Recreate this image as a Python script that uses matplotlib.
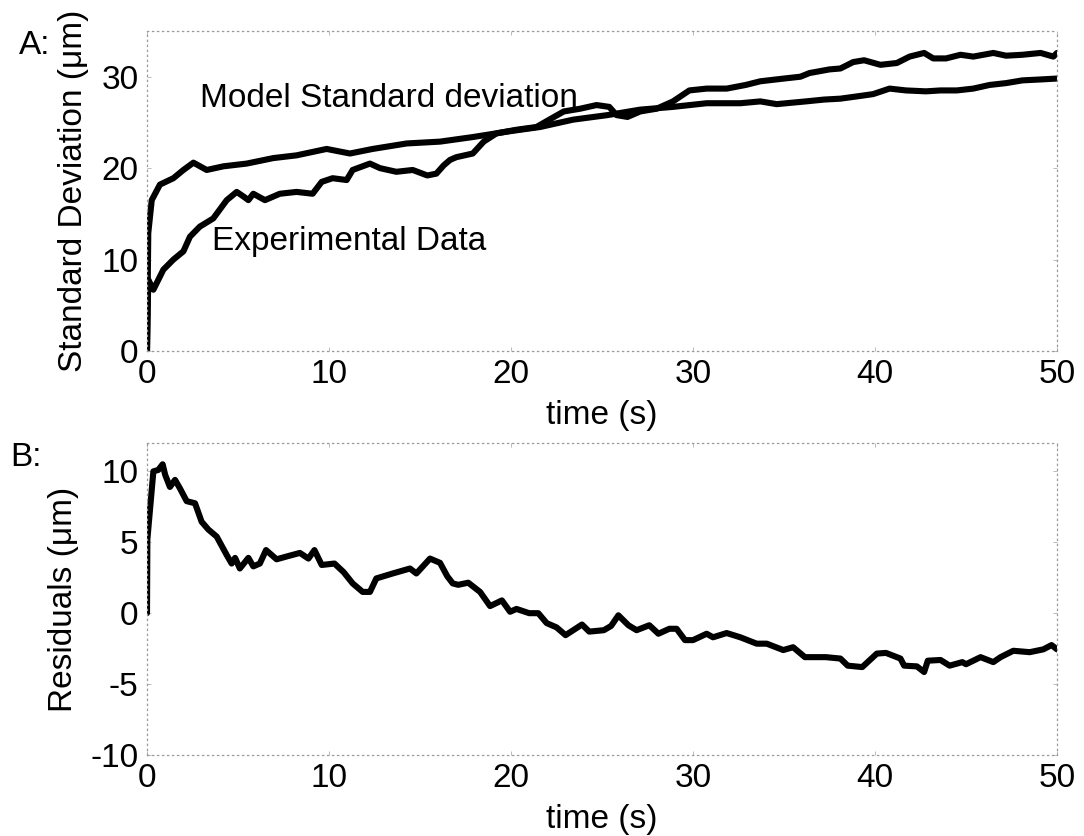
import matplotlib
matplotlib.use("Agg")
import matplotlib.pyplot as plt

plt.rcParams["font.family"] = ["Liberation Sans", "DejaVu Sans"]
plt.rcParams["axes.unicode_minus"] = False

# Panel A: standard deviation of the model and of the experimental data (um)
model_t = [0, 0.07, 0.26, 0.71, 1.45, 2.0, 2.55, 3.28, 4.2, 5.48,
           6.94, 8.22, 9.87, 11.15, 12.4, 14.27, 16.1, 17.9, 19.8, 21.6,
           23.4, 25.3, 27.1, 28.9, 30.75, 32.6, 33.7, 34.6, 36.2, 37.2,
           38.1, 39.2, 39.9, 40.8, 41.7, 42.8, 43.6, 44.5, 45.4, 46.3,
           47.2, 48.1, 49.1, 50]
model_sd = [0, 12.9, 16.5, 18.2, 18.9, 19.8, 20.6, 19.8, 20.2, 20.5,
            21.1, 21.4, 22.1, 21.6, 22.1, 22.7, 22.9, 23.4, 24.0, 24.5,
            25.3, 25.8, 26.4, 26.7, 27.1, 27.1, 27.3, 27.0, 27.3, 27.5,
            27.6, 27.9, 28.1, 28.7, 28.5, 28.4, 28.5, 28.5, 28.7, 29.1,
            29.3, 29.6, 29.7, 29.8]

exp_t = [0, 0.07, 0.35, 0.9, 1.45, 2.0, 2.36, 2.9, 3.64, 4.38,
         4.93, 5.3, 5.57, 5.84, 6.48, 7.3, 8.22, 9.1, 9.6, 10.2,
         10.97, 11.3, 12.25, 12.8, 13.7, 14.6, 15.4, 15.9, 16.3, 16.65,
         17.0, 17.9, 18.5, 19.2, 20.3, 21.4, 22.1, 22.9, 23.8, 24.7,
         25.4, 25.8, 26.4, 27.1, 28.0, 28.9, 29.8, 30.75, 31.85, 32.9,
         33.7, 35.0, 35.9, 36.4, 37.5, 38.1, 38.8, 39.4, 40.3, 41.2,
         41.9, 42.7, 43.2, 43.9, 44.7, 45.4, 46.5, 47.2, 48.1, 49.1,
         49.8, 50]
exp_sd = [0, 7.8, 6.7, 8.9, 10.0, 10.9, 12.5, 13.6, 14.5, 16.5,
          17.4, 16.9, 16.5, 17.2, 16.5, 17.2, 17.4, 17.2, 18.5, 18.9,
          18.7, 19.8, 20.5, 20.0, 19.6, 19.8, 19.2, 19.4, 20.3, 20.9,
          21.2, 21.6, 22.9, 23.8, 24.2, 24.5, 25.3, 26.2, 26.5, 26.9,
          26.7, 25.8, 25.6, 26.2, 26.5, 27.3, 28.5, 28.7, 28.7, 29.1,
          29.5, 29.8, 30.0, 30.4, 30.8, 30.9, 31.6, 31.8, 31.3, 31.5,
          32.2, 32.6, 32.0, 32.0, 32.4, 32.2, 32.6, 32.3, 32.4, 32.6,
          32.2, 32.6]

# Panel B: residuals (um)
res_t = [0, 0.02, 0.35, 0.62, 0.86, 1.0, 1.26, 1.54, 1.81, 2.18,
         2.64, 3.0, 3.37, 3.83, 4.38, 4.65, 4.84, 5.1, 5.57, 5.84,
         6.2, 6.54, 7.12, 7.68, 8.4, 8.87, 9.2, 9.6, 10.3, 10.8,
         11.3, 11.85, 12.25, 12.6, 13.5, 14.45, 14.8, 15.55, 16.1, 16.5,
         16.8, 17.1, 17.65, 18.3, 18.85, 19.5, 19.95, 20.3, 21.0, 21.5,
         21.96, 22.5, 23.0, 23.9, 24.3, 25.1, 25.5, 25.9, 26.45, 26.9,
         27.6, 28.1, 28.7, 29.1, 29.56, 30.0, 30.75, 31.1, 31.85, 32.6,
         33.5, 34.05, 34.96, 35.5, 36.15, 37.3, 38.1, 38.5, 39.3, 40.1,
         40.6, 41.4, 41.6, 42.3, 42.7, 42.9, 43.6, 44.1, 44.8, 45.0,
         45.8, 46.5, 46.9, 47.6, 48.5, 49.25, 49.7, 50]
res_val = [0, 5.2, 10.0, 10.1, 10.5, 9.75, 8.9, 9.4, 8.8, 7.9,
           7.75, 6.45, 5.9, 5.4, 4.1, 3.5, 3.9, 3.15, 3.9, 3.3,
           3.5, 4.45, 3.8, 4.0, 4.25, 3.85, 4.45, 3.4, 3.5, 2.9,
           2.1, 1.5, 1.5, 2.45, 2.8, 3.15, 2.8, 3.85, 3.55, 2.6,
           2.1, 2.0, 2.15, 1.5, 0.5, 0.9, 0.1, 0.3, 0.0, 0.0,
           -0.7, -1.0, -1.55, -0.8, -1.3, -1.2, -0.9, -0.15, -0.85, -1.2,
           -0.85, -1.45, -1.1, -1.1, -1.9, -1.9, -1.45, -1.7, -1.4, -1.7,
           -2.15, -2.15, -2.6, -2.4, -3.1, -3.1, -3.2, -3.7, -3.8, -2.85,
           -2.8, -3.2, -3.7, -3.75, -4.15, -3.35, -3.3, -3.7, -3.45, -3.6,
           -3.1, -3.45, -3.1, -2.65, -2.75, -2.55, -2.25, -2.55]

x_ticks = [0, 10, 20, 30, 40, 50]
a_ticks = [0, 10, 20, 30]
b_ticks = [-10, -5, 0, 5, 10]

FS = 24
W, H = 1084, 836
fig = plt.figure(figsize=(W / 100, H / 100), dpi=100)
fig.patch.set_facecolor("white")

def frac(x0, y0, x1, y1):
    return [x0 / W, 1 - y1 / H, (x1 - x0) / W, (y1 - y0) / H]

axA = fig.add_axes(frac(147, 31, 1057, 351))
axB = fig.add_axes(frac(147, 443, 1057, 755))

line_kw = dict(color="black", lw=4.4, solid_joinstyle="round", solid_capstyle="round")

axA.plot(model_t, model_sd, **line_kw)
axA.plot(exp_t, exp_sd, **line_kw)
axA.set_xlim(0, 50)
axA.set_ylim(0, 35)
axA.set_yticks(a_ticks)
axA.set_ylabel("Standard Deviation (\u03bcm)", fontsize=FS, labelpad=9)
axA.set_xlabel("time (s)", fontsize=FS, labelpad=7)
axA.text(2.9, 26.7, "Model Standard deviation", fontsize=FS, va="baseline", ha="left")
axA.text(3.57, 11.0, "Experimental Data", fontsize=FS, va="baseline", ha="left")

axB.plot(res_t, res_val, **line_kw)
axB.set_xlim(0, 50)
axB.set_ylim(-10, 12)
axB.set_yticks(b_ticks)
axB.set_ylabel("Residuals (\u03bcm)", fontsize=FS, labelpad=8)
axB.set_xlabel("time (s)", fontsize=FS, labelpad=7)

for ax in (axA, axB):
    ax.set_xticks(x_ticks)
    ax.tick_params(axis="both", direction="in", length=3, width=0.6,
                   color="#b0b0b0", labelsize=FS, pad=6,
                   top=True, right=True)
    for sp in ax.spines.values():
        sp.set_color("#9a9a9a")
        sp.set_linewidth(0.9)
        sp.set_linestyle((0, (1, 3)))

fig.text(35 / W, 1 - 46 / H, "A:", fontsize=FS, ha="center", va="center")
fig.text(26 / W, 1 - 457 / H, "B:", fontsize=FS, ha="center", va="center")

fig.savefig("out.png", dpi=100, facecolor="white")
